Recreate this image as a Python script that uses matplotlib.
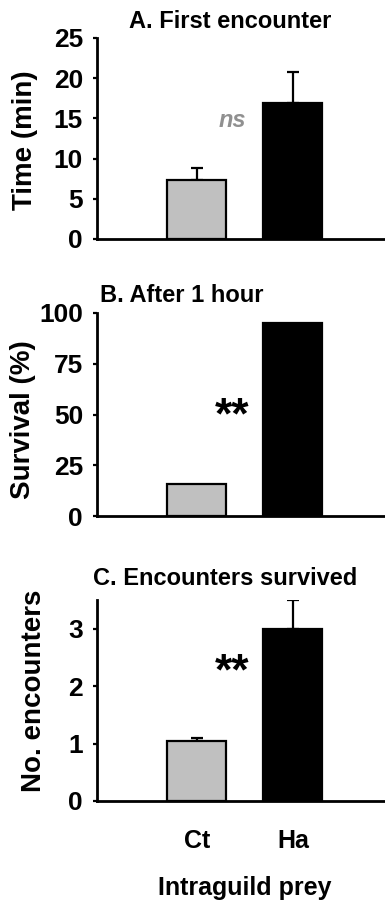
import matplotlib
matplotlib.use("Agg")
import matplotlib.pyplot as plt

plt.rcParams['font.family'] = ['Liberation Sans', 'DejaVu Sans']
plt.rcParams['font.weight'] = 'bold'

categories = ["Ct", "Ha"]
colors = ["#c0c0c0", "#000000"]

time_vals = [7.4, 16.9]
time_err = [1.4, 3.9]

survival_vals = [15.8, 95.2]

enc_vals = [1.04, 3.0]
enc_err = [0.05, 0.5]

W, H = 385, 902
fig = plt.figure(figsize=(W/100, H/100), dpi=100)

def px_axes(top, bottom, left=97, right=385):
    return fig.add_axes([left/W, 1-bottom/H, (right-left)/W, (bottom-top)/H])

panels = [
    dict(top=38, bottom=239, vals=time_vals, err=time_err, ylim=(0, 25), ticks=[0, 5, 10, 15, 20, 25],
         ylabel="Time (min)", ylabel_xy=(25, 140),
         title="A. First encounter", title_xy=(230, 28), title_ha='center'),
    dict(top=313, bottom=516, vals=survival_vals, err=None, ylim=(0, 100), ticks=[0, 25, 50, 75, 100],
         ylabel="Survival (%)", ylabel_xy=(23, 420),
         title="B. After 1 hour", title_xy=(100, 302), title_ha='left'),
    dict(top=600, bottom=801, vals=enc_vals, err=enc_err, ylim=(0, 3.5), ticks=[0, 1, 2, 3],
         ylabel="No. encounters", ylabel_xy=(34, 691),
         title="C. Encounters survived", title_xy=(93, 585), title_ha='left'),
]

x = [0, 1]
axes = []
for p in panels:
    ax = px_axes(p['top'], p['bottom'])
    ax.bar(x, p['vals'], width=0.615, color=colors, edgecolor='black', linewidth=1.6, zorder=3)
    if p['err'] is not None:
        ax.errorbar(x, p['vals'], yerr=[[0, 0], p['err']], fmt='none', ecolor='black',
                    elinewidth=1.6, capsize=4, capthick=1.6, zorder=2)
    ax.set_xlim(-1.04, 1.96)
    ax.set_ylim(*p['ylim'])
    ax.set_yticks(p['ticks'])
    ax.set_yticklabels([str(t) for t in p['ticks']], fontsize=19, fontweight='bold')
    ax.tick_params(axis='y', direction='out', length=3, width=1.6, pad=7)
    ax.set_xticks([])
    for s in ['top', 'right']:
        ax.spines[s].set_visible(False)
    for s in ['left', 'bottom']:
        ax.spines[s].set_linewidth(2)
    fig.text(p['ylabel_xy'][0]/W, 1-p['ylabel_xy'][1]/H, p['ylabel'], fontsize=20, fontweight='bold',
             rotation=90, ha='center', va='center')
    fig.text(p['title_xy'][0]/W, 1-p['title_xy'][1]/H, p['title'], fontsize=17, fontweight='bold',
             ha=p['title_ha'], va='baseline')
    axes.append(ax)

axes[0].text(0.37, 14.8, "ns", color="#909090", fontsize=17, fontweight='bold', style='italic',
             ha='center', va='center')
axes[1].text(0.37, 48.8, "**", fontsize=32, fontweight='bold', ha='center', va='center')
axes[2].text(0.37, 2.23, "**", fontsize=32, fontweight='bold', ha='center', va='center')

axes[2].set_xticks(x)
axes[2].set_xticklabels(categories, fontsize=18, fontweight='bold')
axes[2].tick_params(axis='x', length=0, pad=20)
fig.text(245/W, 1-895/H, "Intraguild prey", fontsize=18, fontweight='bold', ha='center', va='baseline')

fig.savefig("out.png", dpi=100)
